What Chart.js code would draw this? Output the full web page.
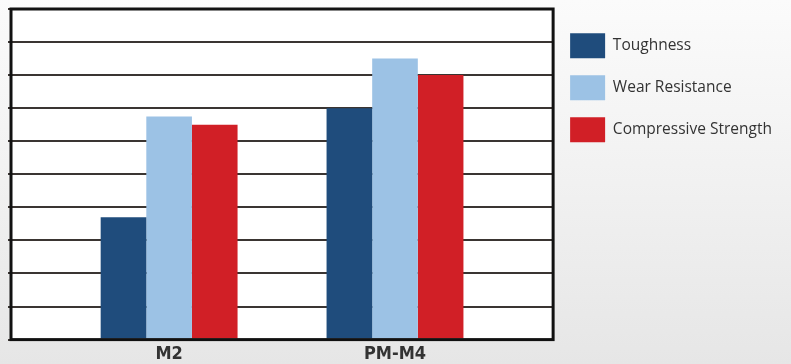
<!DOCTYPE html>
<html>
<head>
<meta charset="utf-8">
<script src="https://cdn.jsdelivr.net/npm/chart.js@4.4.1/dist/chart.umd.min.js"></script>
<style>
  html, body { margin: 0; padding: 0; }
  body { width: 791px; height: 364px; background: linear-gradient(to bottom, #fbfbfb 0%, #f1f1f1 50%, #e6e6e6 100%); overflow: hidden; }
  #wrap { position: relative; width: 791px; height: 364px; }
</style>
</head>
<body>
<div id="wrap"><canvas id="c" width="791" height="364"></canvas></div>
<script>
const categories = ['M2', 'PM-M4'];
const seriesNames = ['Toughness', 'Wear Resistance', 'Compressive Strength'];
const toughness = [3.7, 7.0];
const wearResistance = [6.75, 8.5];
const compressiveStrength = [6.5, 8.0];
const seriesColors = ['#1f4c7c', '#9cc2e5', '#d11f26'];
const seriesValues = [toughness, wearResistance, compressiveStrength];

const frame = {
  id: 'frame',
  beforeDraw(chart) {
    const a = chart.chartArea, ctx = chart.ctx;
    ctx.save();
    ctx.fillStyle = '#ffffff';
    ctx.fillRect(a.left, a.top, a.right - a.left, a.bottom - a.top);
    ctx.restore();
  },
  afterDatasetsDraw(chart) {
    const a = chart.chartArea, ctx = chart.ctx;
    ctx.save();
    ctx.strokeStyle = '#111111';
    ctx.lineWidth = 3;
    ctx.strokeRect(a.left, a.top, a.right - a.left, a.bottom - a.top);
    ctx.restore();
  }
};

new Chart(document.getElementById('c'), {
  type: 'bar',
  data: {
    datasets: seriesNames.map((name, i) => ({
      label: name,
      data: seriesValues[i].map((v, j) => ({ x: j, y: v })),
      backgroundColor: seriesColors[i],
      borderWidth: 0,
      categoryPercentage: 0.606,
      barPercentage: 1.0
    }))
  },
  options: {
    responsive: false,
    animation: false,
    layout: { padding: { left: 8, top: 9, right: 9, bottom: 2 } },
    scales: {
      x: {
        type: 'linear',
        offset: false,
        min: -0.7,
        max: 1.7,
        afterBuildTicks(scale) { scale.ticks = categories.map((c, i) => ({ value: i })); },
        ticks: {
          callback: (v) => categories[v] ?? '',
          color: '#333333',
          font: { family: "'Liberation Sans Narrow', 'DejaVu Sans Condensed', 'Arial Narrow', sans-serif", size: 18, weight: 'bold', lineHeight: 0.8 },
          padding: 0,
          maxRotation: 0
        },
        grid: { display: false },
        border: { display: false }
      },
      y: {
        min: 0,
        max: 10,
        ticks: { display: false, stepSize: 1 },
        grid: { color: '#3a3532', lineWidth: 2, drawTicks: true, tickLength: 3 },
        border: { display: false }
      }
    },
    plugins: {
      legend: {
        position: 'right',
        align: 'start',
        maxWidth: 238,
        title: { display: true, text: ' ', font: { size: 1 }, padding: { top: 0, bottom: 6 } },
        labels: {
          boxWidth: 35,
          boxHeight: 25,
          padding: 17,
          color: '#333333',
          font: { family: "'Open Sans', sans-serif", size: 15.5 }
        }
      },
      tooltip: { enabled: false }
    }
  },
  plugins: [frame]
});
</script>
</body>
</html>
